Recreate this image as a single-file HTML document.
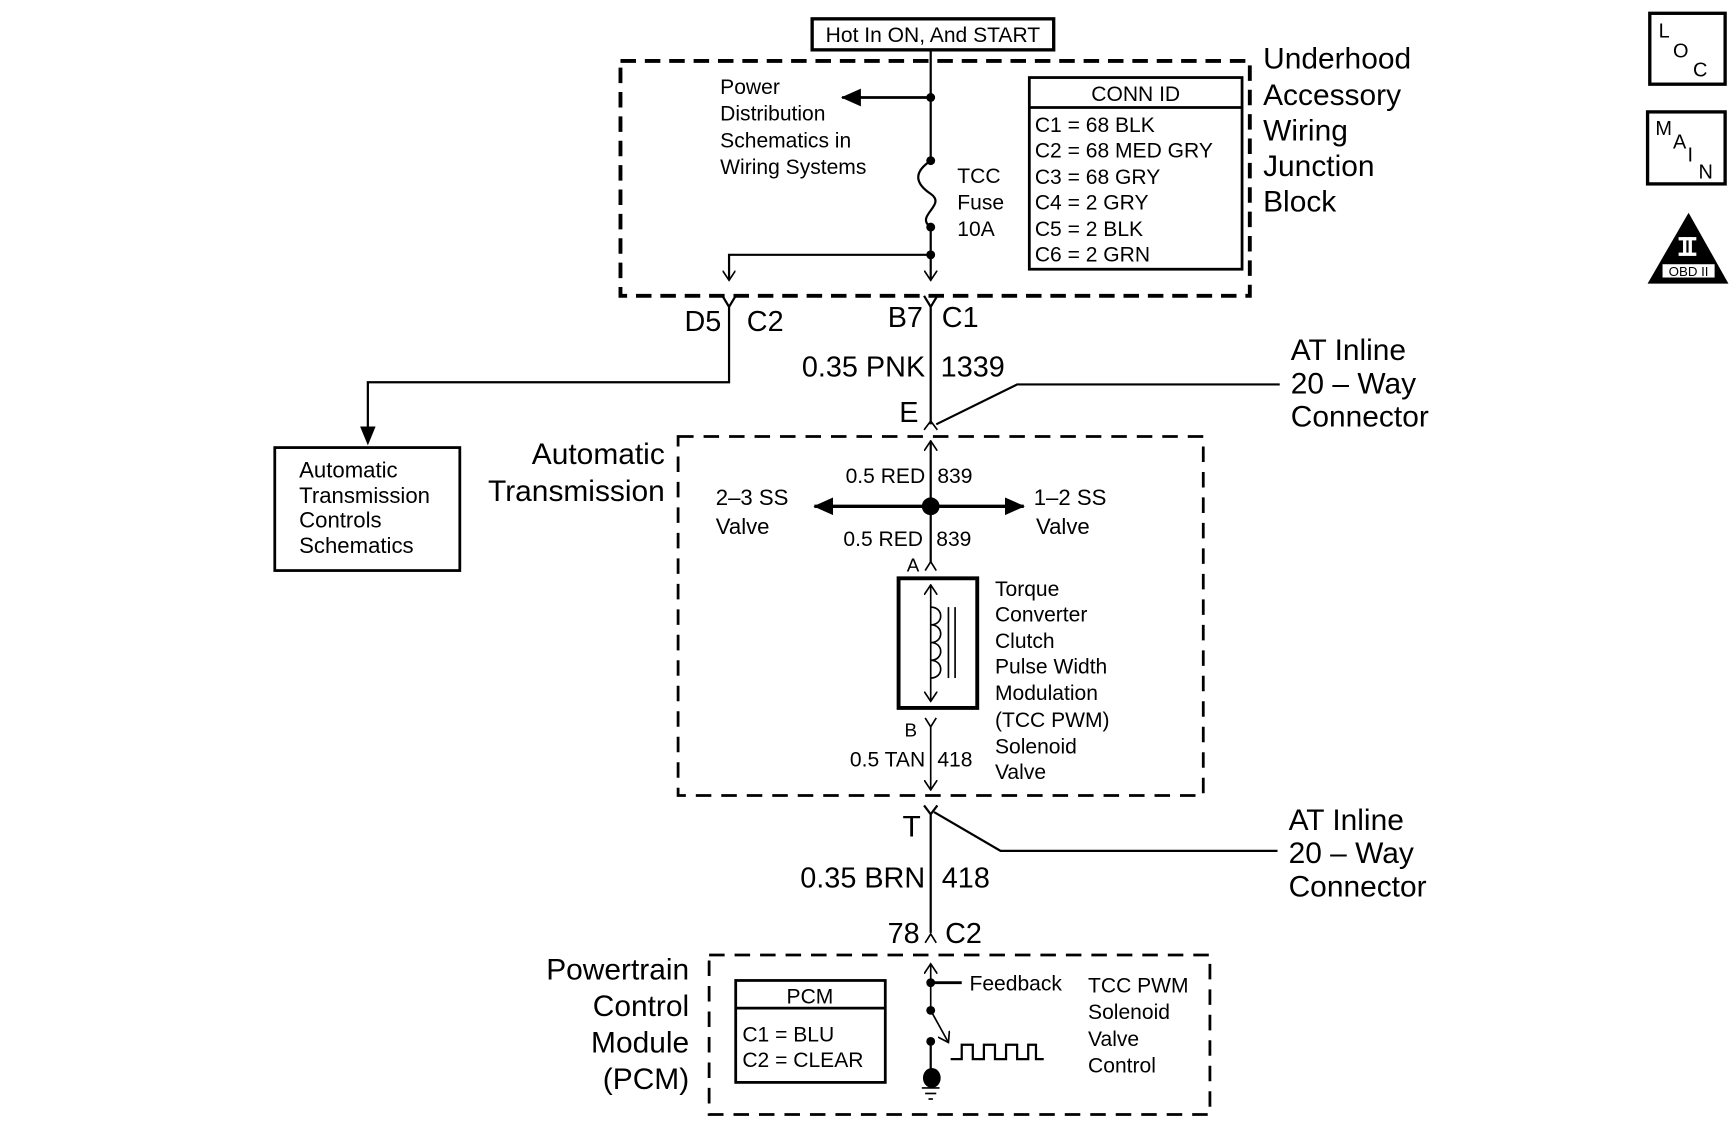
<!DOCTYPE html>
<html><head><meta charset="utf-8"><style>
html,body{margin:0;padding:0;background:#fff}
svg{display:block}
text{font-family:"Liberation Sans",sans-serif;fill:#000}
</style></head><body>
<svg width="1734" height="1140" viewBox="0 0 1565 1029" preserveAspectRatio="none" xmlns="http://www.w3.org/2000/svg">
<defs>
<marker id="ah" markerWidth="10" markerHeight="10" refX="9" refY="5" orient="auto" markerUnits="userSpaceOnUse"><path d="M0,0 L10,5 L0,10 z" fill="#000"/></marker>
<marker id="ahb" markerWidth="18" markerHeight="16" refX="17" refY="8" orient="auto" markerUnits="userSpaceOnUse"><path d="M0,0 L18,8 L0,16 z" fill="#000"/></marker>
<marker id="ao" markerWidth="10" markerHeight="12" refX="9" refY="6" orient="auto" markerUnits="userSpaceOnUse"><path d="M0,0 L9,6 L0,12" fill="none" stroke="#000" stroke-width="1.5"/></marker>
</defs>
<g stroke="#000" fill="none">
<rect x="733" y="17" width="218" height="28" stroke-width="3"/>
<rect x="560" y="55" width="568" height="212" stroke-width="3.5" stroke-dasharray="14,8"/>
<line x1="840" y1="45" x2="840" y2="145" stroke-width="2"/>
<path d="M840,145 C825,155 825,165 840,175 C855,185 825,195 840,205" stroke-width="2"/>
<line x1="840" y1="205" x2="840" y2="253" stroke-width="2" marker-end="url(#ao)"/>
<line x1="840" y1="88" x2="760" y2="88" stroke-width="2.5" marker-end="url(#ahb)"/>
<polyline points="840,230 658,230 658,253" stroke-width="2" marker-end="url(#ao)"/>
<rect x="929" y="70" width="192" height="173" stroke-width="2.5"/>
<line x1="929" y1="97" x2="1121" y2="97" stroke-width="2.5"/>
<rect x="1489" y="12" width="68" height="64" stroke-width="3"/>
<rect x="1487" y="101" width="70" height="65" stroke-width="3"/>
<path d="M652,267 L658,277 L664,267 M658,277 L658,345 L332,345 L332,385" stroke-width="2"/>
<path d="M325,385 L339,385 L332,402 z" fill="#000" stroke="none"/>
<path d="M834,267 L840,277 L846,267 M840,277 L840,383" stroke-width="2"/>
<path d="M834,388 L840,380 L846,388" stroke-width="1.5"/>
<polyline points="845,383 918,347 1155,347" stroke-width="2"/>
<rect x="248" y="404" width="167" height="111" stroke-width="2.5"/>
<rect x="612" y="394" width="474" height="324" stroke-width="2.5" stroke-dasharray="14,9"/>
<line x1="840" y1="457" x2="840" y2="398" stroke-width="2" marker-end="url(#ao)"/>
<line x1="840" y1="457" x2="735" y2="457" stroke-width="3" marker-end="url(#ahb)"/>
<line x1="840" y1="457" x2="924" y2="457" stroke-width="3" marker-end="url(#ahb)"/>
<line x1="840" y1="457" x2="840" y2="508" stroke-width="2"/>
<path d="M835,515 L840,507 L845,515" stroke-width="1.5"/>
<rect x="811" y="522" width="71" height="117" stroke-width="3.5"/>
<line x1="840" y1="580" x2="840" y2="528" stroke-width="1.5" marker-end="url(#ao)"/>
<line x1="840" y1="580" x2="840" y2="633" stroke-width="1.5" marker-end="url(#ao)"/>
<path d="M840,548 C852,548 852,564 840,564 C852,564 852,580 840,580 C852,580 852,596 840,596 C852,596 852,612 840,612" stroke-width="1.5"/>
<line x1="856" y1="548" x2="856" y2="612" stroke-width="1.5"/>
<line x1="862" y1="548" x2="862" y2="612" stroke-width="1.5"/>
<path d="M835,648 L840,656 L845,648 M840,656 L840,713" stroke-width="1.5" marker-end="url(#ao)"/>
<path d="M834,727 L840,735 L846,727 M840,735 L840,842" stroke-width="2"/>
<polyline points="843,733 903,768 1153,768" stroke-width="2"/>
<path d="M835,851 L840,843 L845,851" stroke-width="1.5"/>
<rect x="640" y="862" width="452" height="144" stroke-width="2.5" stroke-dasharray="14,9"/>
<rect x="664" y="885" width="135" height="92" stroke-width="2.5"/>
<line x1="664" y1="910" x2="799" y2="910" stroke-width="2.5"/>
<line x1="840" y1="912" x2="840" y2="870" stroke-width="1.5" marker-end="url(#ao)"/>
<line x1="840" y1="887" x2="868" y2="887" stroke-width="2.5"/>
<line x1="840" y1="912" x2="856" y2="941" stroke-width="1.5" marker-end="url(#ao)"/>
<line x1="840" y1="940" x2="840" y2="972" stroke-width="2"/>
<line x1="832" y1="982" x2="848" y2="982" stroke-width="1.5"/>
<line x1="835" y1="987" x2="845" y2="987" stroke-width="1.5"/>
<line x1="838" y1="992" x2="842" y2="992" stroke-width="1.5"/>
<polyline points="858,956 868,956 868,943 878,943 878,956 888,956 888,943 898,943 898,956 908,956 908,943 918,943 918,956 928,956 928,943 935,943 935,956 942,956" stroke-width="2"/>
</g>
<g fill="#000">
<circle cx="840" cy="88" r="4"/><circle cx="840" cy="145" r="4"/><circle cx="840" cy="205" r="4"/><circle cx="840" cy="230" r="4"/>
<circle cx="840" cy="457" r="8"/>
<circle cx="840" cy="887" r="4"/><circle cx="840" cy="912" r="4"/><circle cx="840" cy="940" r="4"/>
<ellipse cx="841" cy="973" rx="8" ry="9"/>
<path d="M1524,192 L1487,256 L1560,256 z"/>
</g>
<rect x="1500" y="238" width="48" height="13" fill="#fff" stroke="#000" stroke-width="1"/>
<rect x="1515" y="214" width="16" height="3" fill="#fff"/><rect x="1515" y="228" width="16" height="3" fill="#fff"/>
<rect x="1519" y="214" width="3" height="16" fill="#fff"/><rect x="1524" y="214" width="3" height="16" fill="#fff"/>
<text x="1524" y="249" font-size="12" text-anchor="middle">OBD II</text>
<g font-size="20">
<text x="842" y="38" text-anchor="middle" font-size="19">Hot In ON, And START</text>
<text x="650" y="85" font-size="19">Power</text>
<text x="650" y="109" font-size="19">Distribution</text>
<text x="650" y="133" font-size="19">Schematics in</text>
<text x="650" y="157" font-size="19">Wiring Systems</text>
<text x="864" y="165" font-size="19">TCC</text>
<text x="864" y="189" font-size="19">Fuse</text>
<text x="864" y="213" font-size="19">10A</text>
<text x="1025" y="91" text-anchor="middle" font-size="19">CONN ID</text>
<text x="934" y="119" font-size="19">C1 = 68 BLK</text>
<text x="934" y="142" font-size="19">C2 = 68 MED GRY</text>
<text x="934" y="166" font-size="19">C3 = 68 GRY</text>
<text x="934" y="189" font-size="19">C4 = 2 GRY</text>
<text x="934" y="213" font-size="19">C5 = 2 BLK</text>
<text x="934" y="236" font-size="19">C6 = 2 GRN</text>
<text x="1140" y="62" font-size="27">Underhood</text>
<text x="1140" y="95" font-size="27">Accessory</text>
<text x="1140" y="127" font-size="27">Wiring</text>
<text x="1140" y="159" font-size="27">Junction</text>
<text x="1140" y="191" font-size="27">Block</text>
<text x="1497" y="34" font-size="18">L</text><text x="1510" y="52" font-size="18">O</text><text x="1528" y="69" font-size="18">C</text>
<text x="1494" y="122" font-size="18">M</text><text x="1510" y="134" font-size="18">A</text><text x="1523" y="146" font-size="18">I</text><text x="1533" y="161" font-size="18">N</text>
<text x="651" y="299" text-anchor="end" font-size="26">D5</text>
<text x="674" y="299" font-size="26">C2</text>
<text x="833" y="295" text-anchor="end" font-size="26">B7</text>
<text x="850" y="295" font-size="26">C1</text>
<text x="835" y="340" text-anchor="end" font-size="26">0.35 PNK</text>
<text x="849" y="340" font-size="26">1339</text>
<text x="829" y="381" text-anchor="end" font-size="26">E</text>
<text x="1165" y="325" font-size="27">AT Inline</text>
<text x="1165" y="355" font-size="27">20 – Way</text>
<text x="1165" y="385" font-size="27">Connector</text>
<text x="270" y="431">Automatic</text>
<text x="270" y="454">Transmission</text>
<text x="270" y="476">Controls</text>
<text x="270" y="499">Schematics</text>
<text x="600" y="419" text-anchor="end" font-size="27">Automatic</text>
<text x="600" y="452" text-anchor="end" font-size="27">Transmission</text>
<text x="835" y="436" text-anchor="end" font-size="19">0.5 RED</text>
<text x="846" y="436" font-size="19">839</text>
<text x="833" y="493" text-anchor="end" font-size="19">0.5 RED</text>
<text x="845" y="493" font-size="19">839</text>
<text x="646" y="456">2–3 SS</text>
<text x="646" y="482">Valve</text>
<text x="933" y="456">1–2 SS</text>
<text x="935" y="482">Valve</text>
<text x="824" y="516" text-anchor="middle" font-size="17">A</text>
<text x="822" y="665" text-anchor="middle" font-size="17">B</text>
<text x="898" y="538" font-size="19">Torque</text>
<text x="898" y="561" font-size="19">Converter</text>
<text x="898" y="585" font-size="19">Clutch</text>
<text x="898" y="608" font-size="19">Pulse Width</text>
<text x="898" y="632" font-size="19">Modulation</text>
<text x="898" y="656" font-size="19">(TCC PWM)</text>
<text x="898" y="680" font-size="19">Solenoid</text>
<text x="898" y="703" font-size="19">Valve</text>
<text x="835" y="692" text-anchor="end" font-size="19">0.5 TAN</text>
<text x="846" y="692" font-size="19">418</text>
<text x="831" y="755" text-anchor="end" font-size="27">T</text>
<text x="1163" y="749" font-size="27">AT Inline</text>
<text x="1163" y="779" font-size="27">20 – Way</text>
<text x="1163" y="809" font-size="27">Connector</text>
<text x="835" y="801" text-anchor="end" font-size="26">0.35 BRN</text>
<text x="850" y="801" font-size="26">418</text>
<text x="830" y="851" text-anchor="end" font-size="26">78</text>
<text x="853" y="851" font-size="26">C2</text>
<text x="622" y="884" text-anchor="end" font-size="27">Powertrain</text>
<text x="622" y="917" text-anchor="end" font-size="27">Control</text>
<text x="622" y="950" text-anchor="end" font-size="27">Module</text>
<text x="622" y="983" text-anchor="end" font-size="27">(PCM)</text>
<text x="731" y="906" text-anchor="middle" font-size="19">PCM</text>
<text x="670" y="940" font-size="19">C1 = BLU</text>
<text x="670" y="963" font-size="19">C2 = CLEAR</text>
<text x="875" y="894" font-size="19">Feedback</text>
<text x="982" y="896" font-size="19">TCC PWM</text>
<text x="982" y="920" font-size="19">Solenoid</text>
<text x="982" y="944" font-size="19">Valve</text>
<text x="982" y="968" font-size="19">Control</text>
</g>
</svg>
</body></html>
